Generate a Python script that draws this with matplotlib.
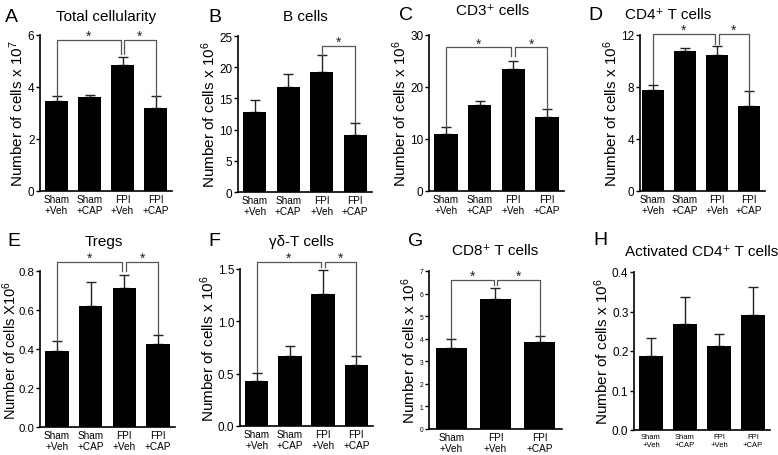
import matplotlib
matplotlib.use("Agg")
import matplotlib.pyplot as plt
from matplotlib.transforms import offset_copy

plt.rcParams.update({
    "font.family": ["Liberation Sans", "DejaVu Sans"],
    "mathtext.fontset": "custom",
    "mathtext.rm": "Liberation Sans",
    "mathtext.it": "Liberation Sans:italic",
    "axes.linewidth": 1.2,
})

W, H = 778, 456

groups4 = ["Sham\n+Veh", "Sham\n+CAP", "FPI\n+Veh", "FPI\n+CAP"]
groups3 = ["Sham\n+Veh", "FPI\n+Veh", "FPI\n+CAP"]

# means and upper SEM tops
total_mean = [3.48, 3.62, 4.86, 3.20]
total_top = [3.64, 3.70, 5.14, 3.64]
bcell_mean = [12.9, 16.9, 19.3, 9.2]
bcell_top = [14.7, 18.9, 21.9, 11.1]
cd3_mean = [10.9, 16.6, 23.5, 14.2]
cd3_top = [12.3, 17.4, 25.0, 15.7]
cd4_mean = [7.8, 10.74, 10.46, 6.52]
cd4_top = [8.16, 10.97, 11.12, 7.67]
treg_mean = [0.391, 0.620, 0.713, 0.424]
treg_top = [0.439, 0.744, 0.781, 0.473]
gd_mean = [0.43, 0.67, 1.26, 0.58]
gd_top = [0.51, 0.76, 1.49, 0.665]
cd8_mean = [3.60, 5.75, 3.87]
cd8_top = [4.00, 6.25, 4.12]
act_mean = [0.188, 0.269, 0.213, 0.292]
act_top = [0.234, 0.336, 0.242, 0.363]

fig = plt.figure(figsize=(W / 100, H / 100), dpi=100)
fig.patch.set_facecolor("white")


def fx(px):
    return px / W


def fy(py):
    return 1 - py / H


def panel(box, labels, means, tops, ymax, yticks, ylabel, letter, lpos,
          title, tpos, brackets=(), ytick_fs=8.5, xtick_fs=7.2, xlim=None,
          title_fs=11, ylabel_fs=11, labelpad=1):
    x0, x1, y0, y1 = box
    ax = fig.add_axes([fx(x0), fy(y1), fx(x1 - x0), (y1 - y0) / H])
    xs = list(range(len(means)))
    errs = [t - m for t, m in zip(tops, means)]
    ax.bar(xs, means, width=0.7, color="black", zorder=2)
    ax.errorbar(xs, means, yerr=[[0] * len(xs), errs], fmt="none",
                ecolor="#222222", elinewidth=1.0, capsize=3.3, capthick=1.0,
                zorder=1)
    ax.set_ylim(0, ymax)
    ax.set_xlim(xlim if xlim else (-0.5, len(xs) - 0.5))
    ax.set_yticks(yticks)
    ax.set_yticklabels([str(t) for t in yticks], fontsize=ytick_fs)
    ax.set_xticks(xs)
    ax.set_xticklabels(labels, fontsize=xtick_fs, linespacing=1.15)
    ax.tick_params(axis="y", length=3, width=1.0, pad=1)
    ax.tick_params(axis="x", length=0, pad=2)
    ax.spines["top"].set_visible(False)
    ax.spines["right"].set_visible(False)
    ax.set_ylabel(ylabel, fontsize=ylabel_fs, labelpad=labelpad)
    # significance brackets
    star_tr = offset_copy(ax.transData, fig=fig, x=0, y=3.0, units="points")
    for xa, xb, ya, yb, ytop in brackets:
        ax.plot([xa, xa, xb, xb], [ya, ytop, ytop, yb], color="#555555",
                lw=0.9, clip_on=False, zorder=3)
        ax.text((xa + xb) / 2, ytop, "*", ha="center", va="center",
                fontsize=10, color="#222222", transform=star_tr)
    fig.text(fx(lpos[0]), fy(lpos[1]), letter, fontsize=14,
             ha="center", va="center")
    fig.text(fx(tpos[0]), fy(tpos[1]), title, fontsize=title_fs,
             ha="center", va="center")
    return ax


d = 0.06
panel((40, 172, 36, 192), groups4, total_mean, total_top, 6, [0, 2, 4, 6],
      r"Number of cells x 10$^7$", "A", (11, 17), "Total cellularity", (106, 17),
      brackets=[(0, 2 - d, 3.66, 5.27, 5.82), (2 + d, 3, 5.27, 3.66, 5.82)])
panel((238, 372, 37, 193), groups4, bcell_mean, bcell_top, 25,
      [0, 5, 10, 15, 20, 25], r"Number of cells x 10$^6$", "B", (215, 17),
      "B cells", (305, 17),
      brackets=[(2, 3, 22.0, 11.2, 23.4)])
panel((429, 564, 36, 192), groups4, cd3_mean, cd3_top, 30, [0, 10, 20, 30],
      r"Number of cells x 10$^6$", "C", (406, 15), "CD3⁺ cells", (493, 11),
      brackets=[(0, 2 - d, 12.4, 26.0, 27.6), (2 + d, 3, 26.0, 15.8, 27.6)])
panel((640, 765, 36, 192), groups4, cd4_mean, cd4_top, 12, [0, 4, 8, 12],
      r"Number of cells x 10$^6$", "D", (595, 16), "CD4⁺ T cells", (668, 15),
      brackets=[(0, 2 - d, 8.2, 11.3, 12.07), (2 + d, 3, 11.3, 7.7, 12.07)],
      xlim=(-0.4, 3.5))
panel((40, 175, 272, 428), groups4, treg_mean, treg_top, 0.8,
      [0.0, 0.2, 0.4, 0.6, 0.8], r"Number of cells X10$^6$", "E", (14, 242),
      "Tregs", (104, 242),
      brackets=[(0, 2 - d, 0.44, 0.798, 0.846), (2 + d, 3, 0.798, 0.475, 0.846)],
      ytick_fs=8.2, ylabel_fs=10.5, labelpad=0)
panel((240, 373, 270, 427), groups4, gd_mean, gd_top, 1.5,
      [0.0, 0.5, 1.0, 1.5], r"Number of cells x 10$^6$", "F", (214, 242),
      "γδ-T cells", (301, 242),
      brackets=[(0, 2 - d, 0.515, 1.516, 1.57), (2 + d, 3, 1.516, 0.67, 1.57)])
panel((429, 562, 272, 430), groups3, cd8_mean, cd8_top, 7,
      [0, 1, 2, 3, 4, 5, 6, 7], r"Number of cells x 10$^6$", "G", (416, 242),
      "CD8⁺ T cells", (495, 251),
      brackets=[(0, 1 - 0.04, 4.02, 6.36, 6.61), (1 + 0.04, 2, 6.36, 4.14, 6.61)],
      ytick_fs=4.8)
panel((634, 770, 273, 431), groups4, act_mean, act_top, 0.4,
      [0.0, 0.1, 0.2, 0.3, 0.4], r"Number of cells x 10$^6$", "H", (600, 241),
      "Activated CD4⁺ T cells", (702, 252), xtick_fs=5.5)

fig.savefig("out.png", dpi=100)
